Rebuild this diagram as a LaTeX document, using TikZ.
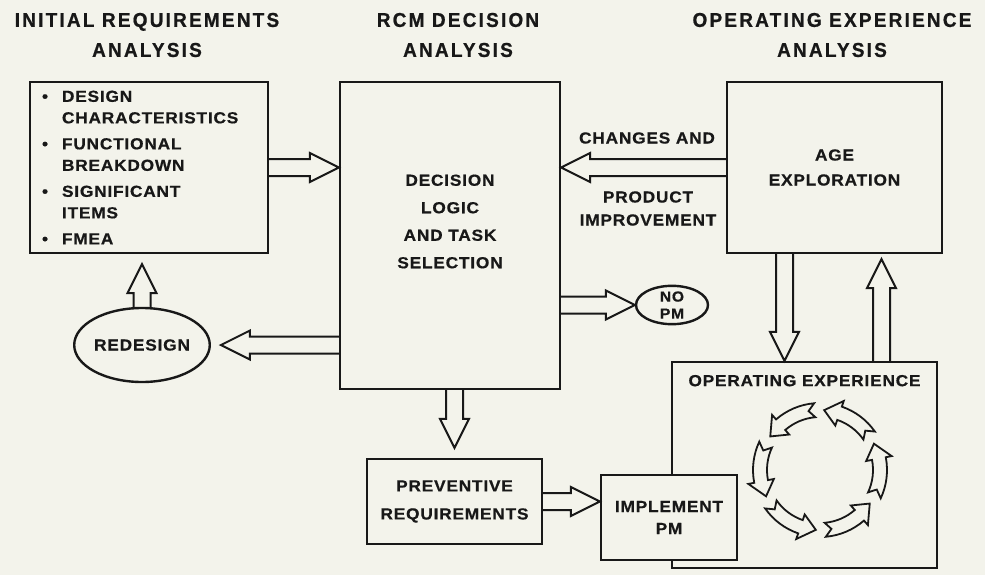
\documentclass[tikz,border=0pt]{standalone}
\usepackage{fontspec}
\setmainfont{Liberation Sans}
\newfontfamily\headfont{Liberation Sans}[LetterSpace=11,FakeStretch=0.95,BoldFeatures={FakeBold=0.8}]
\newfontfamily\boxfont{Liberation Sans}[LetterSpace=5,FakeStretch=1.08,BoldFeatures={FakeBold=0.6}]
\usetikzlibrary{positioning,calc,shapes.geometric}

\definecolor{paper}{RGB}{243,243,235}
\definecolor{ink}{RGB}{24,24,24}

\tikzset{
  heading/.style={font=\headfont\bfseries\fontsize{20}{30}\selectfont, text=ink, align=center, inner sep=0pt},
  boxtext/.style={font=\boxfont\bfseries\fontsize{16}{26}\selectfont, text=ink, align=center, inner sep=0pt},
  block/.style={boxtext, draw=ink, line width=2.4pt},
  oval/.style={block, ellipse},
  fatline/.style={draw=ink, line width=2pt, line join=miter},
}

% hollow block arrow from #1 to #2
\newcommand{\fatarrow}[2]{%
  \draw[fatline] let \p1=(#1), \p2=(#2), \n1={atan2(\y2-\y1,\x2-\x1)}, \n2={veclen(\x2-\x1,\y2-\y1)} in
    [shift={(\p1)}, rotate=\n1]
    (0pt,-8.5pt) -- ({(\n2-29)*1pt},-8.5pt) -- ({(\n2-29)*1pt},-14.5pt) -- ({\n2*1pt},0pt)
    -- ({(\n2-29)*1pt},14.5pt) -- ({(\n2-29)*1pt},8.5pt) -- (0pt,8.5pt);}
\newcommand{\bul}{\makebox[20pt][l]{\textbullet}}
\newcommand{\nobul}{\makebox[20pt]{}}

\begin{document}
\begin{tikzpicture}[x=1pt, y=-1pt]
    \fill[paper] (0,0) rectangle (985,575);
    \useasboundingbox (0,0) rectangle (985,575);

    % column headings
    \node[heading] (hinit) at (147,35) {INITIAL REQUIREMENTS\\ANALYSIS};
    \node[heading] (hrcm) at (458,35) {RCM DECISION\\ANALYSIS};
    \node[heading] (hop) at (832,35) {OPERATING EXPERIENCE\\ANALYSIS};

    % left column
    \node[block, minimum width=238, minimum height=171, text width=214, align=left,
          font=\boxfont\bfseries\fontsize{16}{21.5}\selectfont] (init) at (149,167.5) {
        \bul DESIGN\\ \nobul CHARACTERISTICS\\[4.5pt]
        \bul FUNCTIONAL\\ \nobul BREAKDOWN\\[4.5pt]
        \bul SIGNIFICANT\\ \nobul ITEMS\\[4.5pt]
        \bul FMEA
    };
    \node[oval, minimum width=130, minimum height=74] (redesign) at (142,345) {REDESIGN};

    % middle column
    \node[block, minimum width=220, minimum height=307] (rcm) at (450,235.5) {};
    \node[boxtext, font=\boxfont\bfseries\fontsize{16}{27.5}\selectfont] (rcmtext) at ([yshift=14pt]rcm.center)
        {DECISION\\LOGIC\\AND TASK\\SELECTION};
    \node[oval, minimum width=72, minimum height=34, font=\boxfont\bfseries\fontsize{14.5}{17}\selectfont] (nopm) at (672,305) {NO\\PM};
    \node[block, minimum width=175, minimum height=85, font=\boxfont\bfseries\fontsize{16}{28}\selectfont] (prev) at (454.5,501.5)
        {PREVENTIVE\\REQUIREMENTS};

    % right column
    \node[block, minimum width=215, minimum height=171, font=\boxfont\bfseries\fontsize{16}{25}\selectfont] (age) at (834.5,167.5)
        {AGE\\EXPLORATION};
    \node[boxtext] (changes) at (647,138) {CHANGES AND};
    \node[boxtext, font=\boxfont\bfseries\fontsize{16}{23}\selectfont] (product) at (648,208.5) {PRODUCT\\IMPROVEMENT};
    \node[block, minimum width=265, minimum height=206] (op) at (804.5,465) {};
    \node[boxtext, below=14pt of op.north] (optitle) {OPERATING EXPERIENCE};
    \node[block, fill=paper, minimum width=136, minimum height=85, font=\boxfont\bfseries\fontsize{16}{22}\selectfont] (impl) at (669,517.5)
        {IMPLEMENT\\PM};

    % operating cycle
    \begin{scope}[shift={(820,470)}]
        \foreach \a in {0,60,...,300} {
            \draw[fatline, line width=1.8pt] ({\a-25}:67pt) arc[start angle=\a-25, end angle=\a+11, radius=67pt]
                -- ({\a+11}:73pt) -- ({\a+26}:60pt) -- ({\a+11}:47pt) -- ({\a+11}:53pt)
                arc[start angle=\a+11, end angle=\a-25, radius=53pt] -- ({\a-19}:60pt) -- cycle;
        }
    \end{scope}

    % block arrows
    \coordinate (agedown) at ($(age.south)+(-50,0)$);
    \coordinate (ageup) at ($(age.south)+(47,0)$);
    \fatarrow{init.east}{init.east -| rcm.west}
    \fatarrow{age.west}{age.west -| rcm.east}
    \fatarrow{rcm.east |- nopm.west}{nopm.west}
    \fatarrow{rcm.west |- redesign.east}{[xshift=10pt]redesign.east}
    \fatarrow{redesign.north}{$(redesign.north |- init.south)+(0,10)$}
    \fatarrow{prev.north |- rcm.south}{$(prev.north)+(0,-10)$}
    \fatarrow{prev.east}{prev.east -| impl.west}
    \fatarrow{agedown}{agedown |- op.north}
    \fatarrow{ageup |- op.north}{$(ageup)+(0,5)$}
\end{tikzpicture}
\end{document}
